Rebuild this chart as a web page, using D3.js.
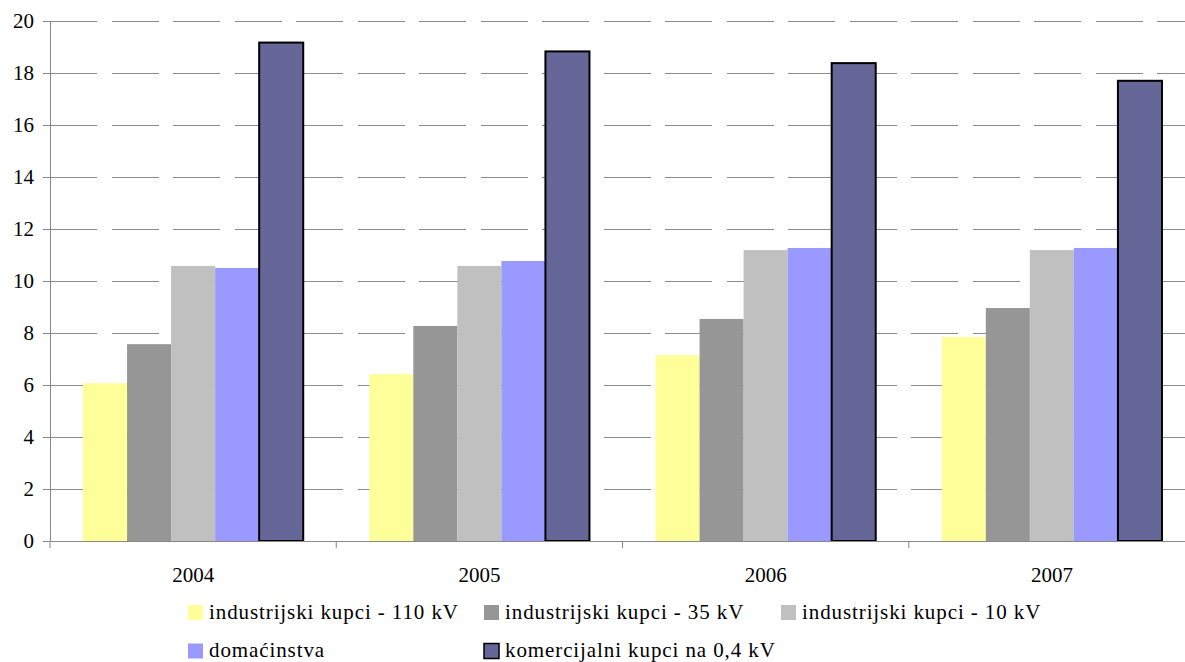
<!DOCTYPE html>
<html>
<head>
<meta charset="utf-8">
<script src="https://cdn.jsdelivr.net/npm/d3@7"></script>
<style>
  html, body { margin: 0; padding: 0; background: #fff; }
  svg { display: block; font-family: "Liberation Serif", "Times New Roman", serif; }
</style>
</head>
<body>
<svg id="chart" width="1185" height="662"></svg>
<script>
const years = ["2004", "2005", "2006", "2007"];
const seriesNames = [
  "industrijski kupci - 110 kV",
  "industrijski kupci - 35 kV",
  "industrijski kupci - 10 kV",
  "domaćinstva",
  "komercijalni kupci na 0,4 kV"
];
const ind110 = [6.07, 6.42, 7.15, 7.85];
const ind35 = [7.57, 8.27, 8.54, 8.96];
const ind10 = [10.58, 10.58, 11.19, 11.19];
const domacinstva = [10.5, 10.77, 11.27, 11.27];
const komercijalni = [19.17, 18.83, 18.38, 17.7];
const yTicks = [0, 2, 4, 6, 8, 10, 12, 14, 16, 18, 20];

const seriesValues = [ind110, ind35, ind10, domacinstva, komercijalni];
const colors = ["#FFFF99", "#969696", "#C0C0C0", "#9999FF", "#666699"];
const strokes = [null, null, null, null, "#000"];
const FONT = "Liberation Serif";

const svg = d3.select("#chart");
const plot = { left: 50, right: 1195, top: 21, bottom: 541 };

const x0 = d3.scaleBand().domain(years).range([plot.left, plot.right]).paddingInner(0).paddingOuter(0);
const x1 = d3.scaleBand().domain(seriesNames).range([0, x0.bandwidth()]).paddingInner(0).paddingOuter(0.75);
const y = d3.scaleLinear().domain([0, 20]).range([plot.bottom, plot.top]);

// gridlines
svg.append("g").selectAll("line")
  .data(yTicks.filter(t => t > 0))
  .join("line")
  .attr("x1", plot.left).attr("x2", plot.right)
  .attr("y1", d => y(d)).attr("y2", d => y(d))
  .attr("stroke", "#8c8c8c").attr("stroke-width", 1)
  .attr("stroke-dasharray", "47,14.5")
  .attr("shape-rendering", "crispEdges");

// bars
const groups = svg.append("g").selectAll("g")
  .data(years)
  .join("g")
  .attr("transform", d => `translate(${x0(d)},0)`);

groups.selectAll("rect")
  .data((yr, i) => seriesNames.map((s, j) => ({ s, j, v: seriesValues[j][i] })))
  .join("rect")
  .attr("x", d => x1(d.s))
  .attr("width", x1.bandwidth())
  .attr("y", d => y(d.v))
  .attr("height", d => y(0) - y(d.v))
  .attr("fill", d => colors[d.j])
  .attr("stroke", d => strokes[d.j] || "none")
  .attr("stroke-width", d => strokes[d.j] ? 2 : 0);

// y axis
const yAxis = svg.append("g")
  .attr("transform", `translate(${plot.left},0)`)
  .call(d3.axisLeft(y).tickValues(yTicks).tickSize(7).tickSizeOuter(0).tickPadding(9));
yAxis.attr("font-family", FONT).attr("font-size", 21);
yAxis.select(".domain").attr("stroke", "#888");
yAxis.selectAll(".tick line").attr("stroke", "#888");
yAxis.selectAll(".tick text").attr("fill", "#000");

// x axis
const xAxis = svg.append("g")
  .attr("transform", `translate(0,${plot.bottom})`)
  .call(d3.axisBottom(x0).tickSize(0).tickSizeOuter(0).tickPadding(26));
xAxis.attr("font-family", FONT).attr("font-size", 21);
xAxis.select(".domain").attr("stroke", "#888");
xAxis.selectAll(".tick text").attr("fill", "#000");
// category boundary ticks
svg.append("g").selectAll("line")
  .data(years)
  .join("line")
  .attr("x1", d => x0(d)).attr("x2", d => x0(d))
  .attr("y1", plot.bottom).attr("y2", plot.bottom + 7)
  .attr("stroke", "#888");

// legend
const legendPos = [
  { x: 188, y: 612.5 }, { x: 484, y: 612.5 }, { x: 781, y: 612.5 },
  { x: 188, y: 651 }, { x: 484, y: 651 }
];
const lg = svg.append("g").selectAll("g")
  .data(seriesNames)
  .join("g")
  .attr("transform", (d, i) => `translate(${legendPos[i].x},${legendPos[i].y})`);
lg.append("rect")
  .attr("x", 0).attr("y", -7.5).attr("width", 15).attr("height", 15)
  .attr("fill", (d, i) => colors[i])
  .attr("stroke", (d, i) => strokes[i] || "none")
  .attr("stroke-width", (d, i) => strokes[i] ? 1.5 : 0);
lg.append("text")
  .attr("x", 21).attr("y", 0).attr("dy", "0.3em")
  .attr("font-family", FONT)
  .attr("font-size", 21)
  .attr("letter-spacing", "0.9px")
  .text(d => d);
</script>
</body>
</html>
